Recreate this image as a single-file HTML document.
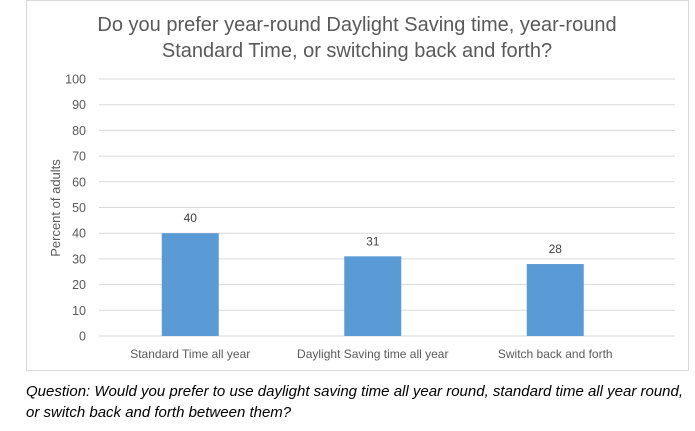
<!DOCTYPE html>
<html><head><meta charset="utf-8"><style>
body{margin:0;background:#fff;width:695px;height:426px;overflow:hidden;font-family:"Liberation Sans",sans-serif}
</style></head><body>
<svg width="695" height="426" xmlns="http://www.w3.org/2000/svg">
<rect x="26.5" y="0.5" width="662" height="370" fill="#fff" stroke="#d9d9d9"/>
<text x="357" y="31" text-anchor="middle" font-size="20" fill="#595959">Do you prefer year-round Daylight Saving time, year-round</text>
<text x="357" y="57" text-anchor="middle" font-size="20" fill="#595959">Standard Time, or switching back and forth?</text>
<text transform="translate(60,208) rotate(-90)" text-anchor="middle" font-size="13" fill="#595959">Percent of adults</text>
<g id="grid"></g><g id="bars"></g>
<text x="26" y="396" font-size="15" font-style="italic" fill="#000">Question: Would you prefer to use daylight saving time all year round, standard time all year round,</text>
<text x="26" y="417" font-size="15" font-style="italic" fill="#000">or switch back and forth between them?</text>
</svg>
<script>
const categories=["Standard Time all year","Daylight Saving time all year","Switch back and forth"];
const values=[40,31,28];
const ticks=[0,10,20,30,40,50,60,70,80,90,100];
const NS="http://www.w3.org/2000/svg";
const y0=336,y100=79,left=99,right=675,band=182.5,bw=57;
function y(v){return y0-(y0-y100)*v/100;}
function x(i){return left+band*(i+0.5);}
const g=document.getElementById('grid'),b=document.getElementById('bars');
function mk(t,a,p,txt){const e=document.createElementNS(NS,t);for(const k in a)e.setAttribute(k,a[k]);if(txt!==undefined)e.textContent=txt;p.appendChild(e);return e;}
ticks.forEach(t=>{
 const l=mk('line',{x1:left,x2:right,y1:y(t),y2:y(t),stroke:'#d9d9d9','stroke-width':1},g);
 
 
 const tx=mk('text',{x:86,y:y(t)+4.5,'text-anchor':'end','font-size':12.5,fill:'#595959'},g,String(t));
 
 
});
categories.forEach((c,i)=>{
 const r=mk('rect',{x:x(i)-bw/2,y:y(values[i]),width:bw,height:y(0)-y(values[i]),fill:'#5b9bd5'},b);
 
 
 const v=mk('text',{x:x(i),y:y(values[i])-11,'text-anchor':'middle','font-size':12,fill:'#404040'},b,String(values[i]));
 
 
 const cl=mk('text',{x:x(i),y:358,'text-anchor':'middle','font-size':12,fill:'#595959'},b,c);
 
 
});
</script>
</body></html>
